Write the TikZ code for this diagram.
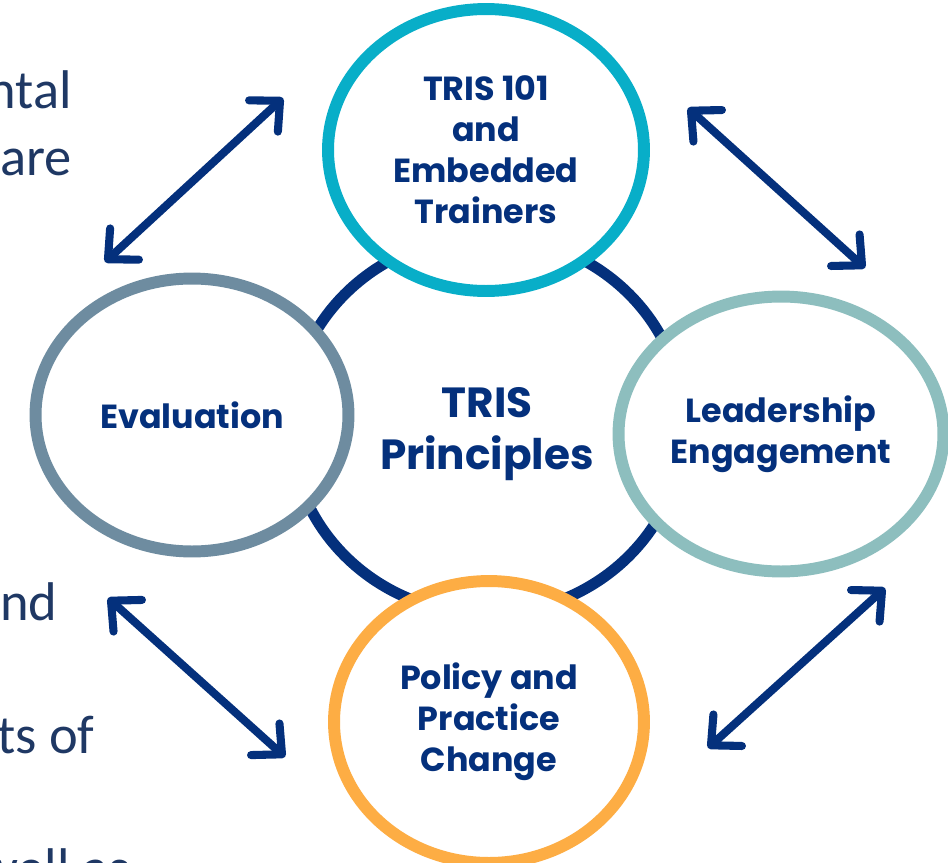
\documentclass[tikz,border=0pt]{standalone}
\usepackage{fontspec}
\setmainfont{Carlito}
\newfontfamily\headfont{Poppins}
\usetikzlibrary{arrows.meta,shapes.geometric}
\definecolor{trisnavy}{RGB}{4,48,124}
\definecolor{traincolor}{RGB}{8,174,200}
\definecolor{evalcolor}{RGB}{110,140,160}
\definecolor{leadcolor}{RGB}{141,190,190}
\definecolor{policycolor}{RGB}{253,173,68}
\definecolor{sidetext}{RGB}{31,56,100}

\begin{document}
\begin{tikzpicture}[
  x=0.02cm, y=-0.02cm,
  >={Straight Barb[length=0.45cm, width=0.85cm, round]},
  part/.style={ellipse, draw, fill=white, line width=6.8pt, inner sep=0pt, align=center, text=trisnavy, font=\headfont\bfseries\fontsize{19}{23.3}\selectfont},
  hub/.style={ellipse, draw=trisnavy, line width=6.3pt, inner sep=0pt},
  hubtext/.style={align=center, inner sep=0pt, text=trisnavy, font=\headfont\bfseries\fontsize{24}{29.6}\selectfont},
  link/.style={<->, line width=4.6pt, draw=trisnavy, line cap=round},
  side/.style={anchor=base west, inner sep=0pt, text=sidetext, font=\fontsize{31}{36}\selectfont},
]
\useasboundingbox (0,0) rectangle (948,863);
\clip (0,0) rectangle (948,863);

% === Body text running in from the left ===
\node[side] (t1) at (-13,108) {ntal};
\node[side] (t2) at (0,175) {are};
\node[side] (t3) at (0,620) {nd};
\node[side] (t4) at (-3,753) {ts of};
\node[side] (t5) at (-21,886) {well as};

% === Centre ring ===
\node[hub, minimum width=7.88cm, minimum height=7.56cm] (hub) at (487,425) {};
\node[hubtext] (principles) at (487,434) {TRIS\\Principles};

% === Four parts round the ring ===
\node[part, draw=traincolor, minimum width=6.32cm, minimum height=5.64cm] (train) at (486,150) {TRIS 101\\and\\Embedded\\Trainers};
\node[part, draw=evalcolor, minimum width=6.26cm, minimum height=5.46cm] (eval) at (192,415) {Evaluation};
\node[part, draw=leadcolor, minimum width=6.5cm, minimum height=5.5cm] (lead) at (781,434) {Leadership\\Engagement};
\node[part, draw=policycolor, minimum width=6.2cm, minimum height=5.64cm] (policy) at (489,722) {Policy and\\Practice\\Change};

% arrow ends between neighbouring parts
\coordinate (a1) at (105,262);
\coordinate (b1) at (283,98);
\coordinate (a2) at (688,108);
\coordinate (b2) at (865,268);
\coordinate (a3) at (108,598);
\coordinate (b3) at (285,757);
\coordinate (a4) at (885,588);
\coordinate (b4) at (708,748);

% === Double arrows ===
\draw[link] (a1) -- (b1);
\draw[link] (a2) -- (b2);
\draw[link] (a3) -- (b3);
\draw[link] (a4) -- (b4);

\end{tikzpicture}
\end{document}
